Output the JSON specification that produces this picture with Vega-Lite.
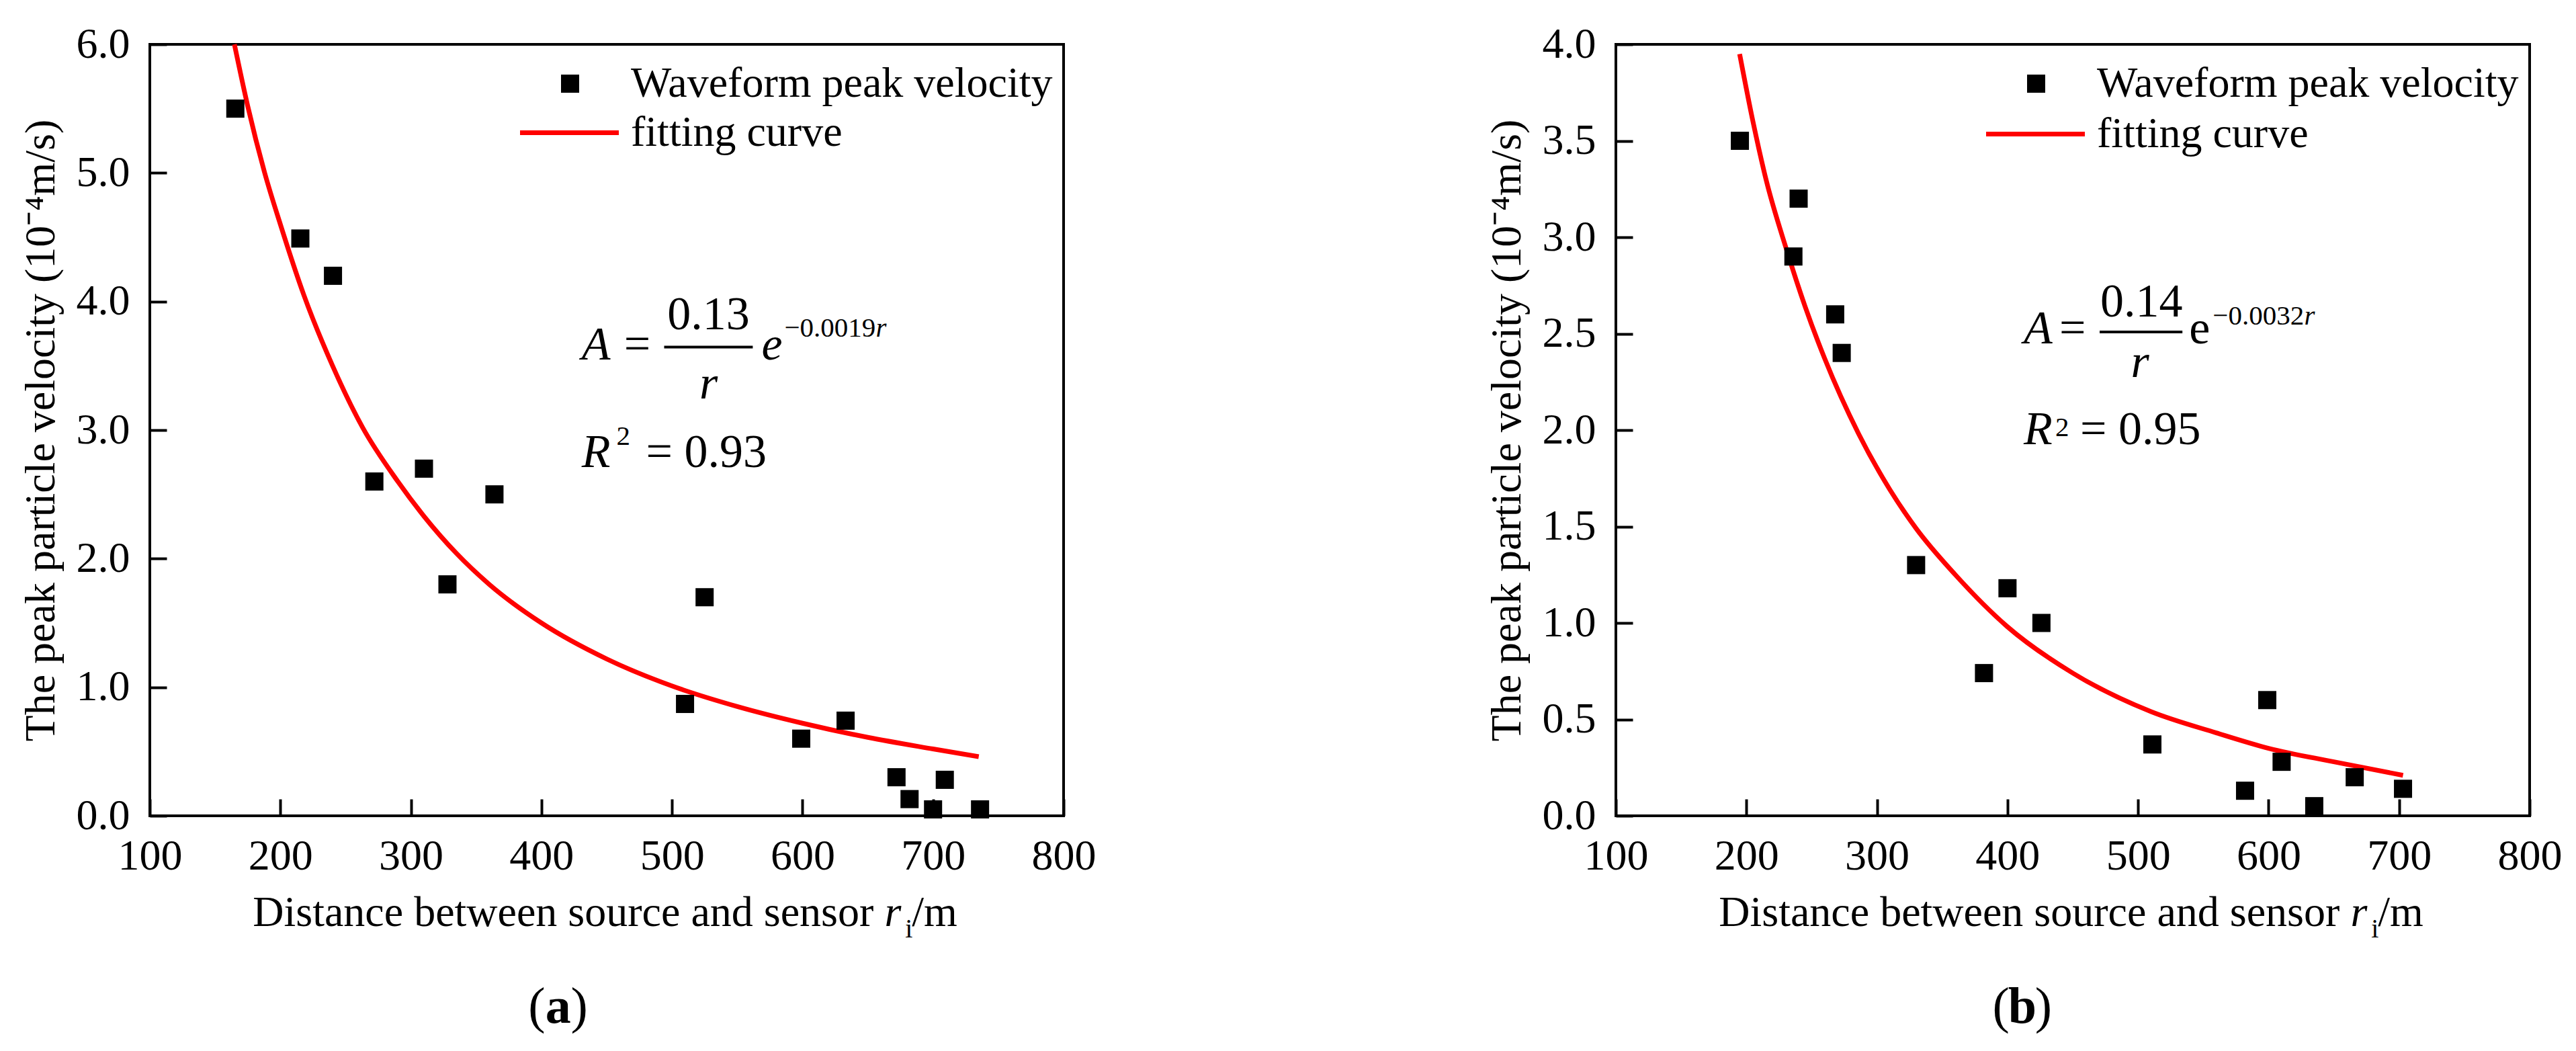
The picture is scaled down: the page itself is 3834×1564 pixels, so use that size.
{
  "$schema": "https://vega.github.io/schema/vega-lite/v6.json",
  "background": "white",
  "padding": {"left": 27, "top": 32, "right": 20, "bottom": 10},
  "bounds": "flush",
  "spacing": 822,
  "config": {
    "font": "Liberation Serif",
    "view": {"stroke": "black", "strokeWidth": 4},
    "axis": {
      "domain": false,
      "grid": false,
      "ticks": true,
      "tickSize": -25,
      "tickWidth": 4,
      "tickColor": "black",
      "labelFont": "Liberation Serif",
      "labelFontSize": 64,
      "labelColor": "black",
      "labelFlush": false,
      "labelOverlap": false,
      "titleFont": "Liberation Serif",
      "titleFontSize": 64,
      "titleFontWeight": "normal",
      "titleColor": "black"
    },
    "axisX": {"labelPadding": 53},
    "axisY": {"labelPadding": 55, "titlePadding": 20},
    "legend": {
      "labelFont": "Liberation Serif",
      "labelFontSize": 64,
      "labelColor": "black",
      "labelLimit": 2000,
      "padding": 0
    },
    "text": {"font": "Liberation Serif", "color": "black", "baseline": "alphabetic"}
  },
  "resolve": {
    "scale": {"x": "independent", "y": "independent", "color": "independent", "shape": "independent"},
    "legend": {"color": "independent", "shape": "independent"}
  },
  "hconcat": [
    {
      "width": 1360,
      "height": 1148,
      "encoding": {
        "x": {
          "field": "r",
          "type": "quantitative",
          "title": null,
          "scale": {"domain": [100, 800], "nice": false, "zero": false},
          "axis": {"values": [100, 200, 300, 400, 500, 600, 700, 800], "format": "d"}
        },
        "y": {
          "field": "v",
          "type": "quantitative",
          "title": "The peak particle velocity (10⁻⁴m/s)",
          "scale": {"domain": [0, 6], "nice": false},
          "axis": {"values": [0, 1, 2, 3, 4, 5, 6], "format": ".1f"}
        }
      },
      "layer": [
        {
          "data": {"values": [
            {"r": 164.8, "v": 6.0}, {"r": 175, "v": 5.52}, {"r": 188, "v": 5.0},
            {"r": 200, "v": 4.6}, {"r": 218, "v": 4.05}, {"r": 240, "v": 3.5},
            {"r": 263, "v": 3.02}, {"r": 290, "v": 2.6}, {"r": 310, "v": 2.33},
            {"r": 335, "v": 2.04}, {"r": 360, "v": 1.8}, {"r": 400, "v": 1.5},
            {"r": 450, "v": 1.22}, {"r": 500, "v": 1.01}, {"r": 550, "v": 0.85},
            {"r": 600, "v": 0.72}, {"r": 650, "v": 0.61}, {"r": 700, "v": 0.52},
            {"r": 735, "v": 0.46}
          ]},
          "mark": {"type": "line", "strokeWidth": 7, "interpolate": "monotone"},
          "encoding": {
            "color": {
              "datum": "fitting curve",
              "scale": {"range": ["#ff0000"]},
              "legend": {"title": null, "orient": "none", "legendX": 547.5, "legendY": 54.5,
                "symbolType": "stroke", "symbolSize": 21609, "symbolStrokeWidth": 7, "labelOffset": 14.5}
            }
          }
        },
        {
          "data": {"values": [
            {"r": 165.5, "v": 5.5}, {"r": 215.3, "v": 4.49}, {"r": 240.3, "v": 4.2},
            {"r": 272, "v": 2.6}, {"r": 310, "v": 2.7}, {"r": 328, "v": 1.8},
            {"r": 364, "v": 2.5}, {"r": 510, "v": 0.87}, {"r": 525, "v": 1.7},
            {"r": 599, "v": 0.6}, {"r": 633, "v": 0.74}, {"r": 672, "v": 0.3},
            {"r": 682, "v": 0.13}, {"r": 700, "v": 0.05}, {"r": 709, "v": 0.28},
            {"r": 736, "v": 0.05}
          ]},
          "mark": {"type": "point", "filled": true, "color": "black", "opacity": 1, "size": 729},
          "encoding": {
            "shape": {
              "datum": "Waveform peak velocity",
              "scale": {"range": ["square"]},
              "legend": {"title": null, "orient": "none", "legendX": 593.5, "legendY": 26.5,
                "symbolType": "square", "symbolSize": 729, "symbolFillColor": "black", "labelOffset": 58.5}
            }
          }
        },
        {
          "data": {"values": [{"r": 494.0, "r2": 561.9, "v": 3.645}]},
          "mark": {"type": "rule", "strokeWidth": 4, "color": "black"},
          "encoding": {"x2": {"field": "r2"}}
        },
        {
          "data": {"values": [
            {"label": "A", "r": 430.8, "v": 3.551},
            {"label": "R", "r": 430.8, "v": 2.715},
            {"label": "e", "r": 568.6, "v": 3.551}
          ]},
          "mark": {"type": "text", "fontStyle": "italic", "fontSize": 70, "align": "left"},
          "encoding": {"text": {"field": "label"}}
        },
        {
          "data": {"values": [
            {"label": "=", "r": 463.2, "v": 3.551},
            {"label": "= 0.93", "r": 480.1, "v": 2.715}
          ]},
          "mark": {"type": "text", "fontSize": 70, "align": "left"},
          "encoding": {"text": {"field": "label"}}
        },
        {
          "data": {"values": [{"label": "0.13", "r": 528.0, "v": 3.786}]},
          "mark": {"type": "text", "fontSize": 70, "align": "center"},
          "encoding": {"text": {"field": "label"}}
        },
        {
          "data": {"values": [{"label": "r", "r": 528.0, "v": 3.248}]},
          "mark": {"type": "text", "fontStyle": "italic", "fontSize": 70, "align": "center"},
          "encoding": {"text": {"field": "label"}}
        },
        {
          "data": {"values": [
            {"label": "−0.0019", "r": 586.1, "v": 3.728},
            {"label": "2", "r": 457.5, "v": 2.883}
          ]},
          "mark": {"type": "text", "fontSize": 41, "align": "left"},
          "encoding": {"text": {"field": "label"}}
        },
        {
          "data": {"values": [{"label": "r", "r": 656.1, "v": 3.728}]},
          "mark": {"type": "text", "fontStyle": "italic", "fontSize": 41, "align": "left"},
          "encoding": {"text": {"field": "label"}}
        },
        {
          "data": {"values": [{"label": "Distance between source and sensor", "r": 654.5, "v": -0.857}]},
          "mark": {"type": "text", "fontSize": 64, "align": "right"},
          "encoding": {"text": {"field": "label"}}
        },
        {
          "data": {"values": [{"label": "r", "r": 662.8, "v": -0.857}]},
          "mark": {"type": "text", "fontStyle": "italic", "fontSize": 64, "align": "left"},
          "encoding": {"text": {"field": "label"}}
        },
        {
          "data": {"values": [{"label": "i", "r": 678.7, "v": -0.946}]},
          "mark": {"type": "text", "fontSize": 40, "align": "left"},
          "encoding": {"text": {"field": "label"}}
        },
        {
          "data": {"values": [{"label": "/m", "r": 683.8, "v": -0.857}]},
          "mark": {"type": "text", "fontSize": 64, "align": "left"},
          "encoding": {"text": {"field": "label"}}
        },
        {
          "data": {"values": [{"label": "(", "r": 403.0, "v": -1.61}]},
          "mark": {"type": "text", "fontSize": 76, "align": "right"},
          "encoding": {"text": {"field": "label"}}
        },
        {
          "data": {"values": [{"label": ")", "r": 422.5, "v": -1.61}]},
          "mark": {"type": "text", "fontSize": 76, "align": "left"},
          "encoding": {"text": {"field": "label"}}
        },
        {
          "data": {"values": [{"label": "a", "r": 412.8, "v": -1.61}]},
          "mark": {"type": "text", "fontSize": 76, "fontWeight": "bold", "align": "center"},
          "encoding": {"text": {"field": "label"}}
        }
      ]
    },
    {
      "width": 1360,
      "height": 1148,
      "encoding": {
        "x": {
          "field": "r",
          "type": "quantitative",
          "title": null,
          "scale": {"domain": [100, 800], "nice": false, "zero": false},
          "axis": {"values": [100, 200, 300, 400, 500, 600, 700, 800], "format": "d"}
        },
        "y": {
          "field": "v",
          "type": "quantitative",
          "title": "The peak particle velocity (10⁻⁴m/s)",
          "scale": {"domain": [0, 4], "nice": false},
          "axis": {"values": [0, 0.5, 1, 1.5, 2, 2.5, 3, 3.5, 4], "format": ".1f"}
        }
      },
      "layer": [
        {
          "data": {"values": [
            {"r": 194.8, "v": 3.95}, {"r": 205, "v": 3.6}, {"r": 215, "v": 3.3},
            {"r": 231, "v": 2.93}, {"r": 245, "v": 2.64}, {"r": 260, "v": 2.37},
            {"r": 286, "v": 1.98}, {"r": 310, "v": 1.69}, {"r": 330, "v": 1.49},
            {"r": 360, "v": 1.25}, {"r": 400, "v": 0.98}, {"r": 450, "v": 0.74},
            {"r": 510, "v": 0.54}, {"r": 560, "v": 0.43}, {"r": 600, "v": 0.35},
            {"r": 650, "v": 0.28}, {"r": 703, "v": 0.21}
          ]},
          "mark": {"type": "line", "strokeWidth": 7, "interpolate": "monotone"},
          "encoding": {
            "color": {
              "datum": "fitting curve",
              "scale": {"range": ["#ff0000"]},
              "legend": {"title": null, "orient": "none", "legendX": 547.5, "legendY": 56.5,
                "symbolType": "stroke", "symbolSize": 21609, "symbolStrokeWidth": 7, "labelOffset": 14.5}
            }
          }
        },
        {
          "data": {"values": [
            {"r": 195, "v": 3.5}, {"r": 240, "v": 3.2}, {"r": 236, "v": 2.9},
            {"r": 268, "v": 2.6}, {"r": 273, "v": 2.4}, {"r": 330, "v": 1.3},
            {"r": 400, "v": 1.18}, {"r": 382, "v": 0.74}, {"r": 426, "v": 1.0},
            {"r": 511, "v": 0.37}, {"r": 599, "v": 0.6}, {"r": 582, "v": 0.13},
            {"r": 610, "v": 0.28}, {"r": 635, "v": 0.05}, {"r": 666, "v": 0.2},
            {"r": 703, "v": 0.14}
          ]},
          "mark": {"type": "point", "filled": true, "color": "black", "opacity": 1, "size": 729},
          "encoding": {
            "shape": {
              "datum": "Waveform peak velocity",
              "scale": {"range": ["square"]},
              "legend": {"title": null, "orient": "none", "legendX": 593.5, "legendY": 26.5,
                "symbolType": "square", "symbolSize": 729, "symbolFillColor": "black", "labelOffset": 58.5}
            }
          }
        },
        {
          "data": {"values": [{"r": 470.6, "r2": 534.0, "v": 2.509}]},
          "mark": {"type": "rule", "strokeWidth": 4, "color": "black"},
          "encoding": {"x2": {"field": "r2"}}
        },
        {
          "data": {"values": [
            {"label": "A", "r": 412.4, "v": 2.449},
            {"label": "R", "r": 412.4, "v": 1.927}
          ]},
          "mark": {"type": "text", "fontStyle": "italic", "fontSize": 70, "align": "left"},
          "encoding": {"text": {"field": "label"}}
        },
        {
          "data": {"values": [
            {"label": "=", "r": 439.7, "v": 2.449},
            {"label": "= 0.95", "r": 455.7, "v": 1.927},
            {"label": "e", "r": 539.2, "v": 2.449}
          ]},
          "mark": {"type": "text", "fontSize": 70, "align": "left"},
          "encoding": {"text": {"field": "label"}}
        },
        {
          "data": {"values": [{"label": "0.14", "r": 502.6, "v": 2.589}]},
          "mark": {"type": "text", "fontSize": 70, "align": "center"},
          "encoding": {"text": {"field": "label"}}
        },
        {
          "data": {"values": [{"label": "r", "r": 501.5, "v": 2.275}]},
          "mark": {"type": "text", "fontStyle": "italic", "fontSize": 70, "align": "center"},
          "encoding": {"text": {"field": "label"}}
        },
        {
          "data": {"values": [
            {"label": "−0.0032", "r": 557.2, "v": 2.547},
            {"label": "2", "r": 436.6, "v": 1.969}
          ]},
          "mark": {"type": "text", "fontSize": 41, "align": "left"},
          "encoding": {"text": {"field": "label"}}
        },
        {
          "data": {"values": [{"label": "r", "r": 627.3, "v": 2.547}]},
          "mark": {"type": "text", "fontStyle": "italic", "fontSize": 41, "align": "left"},
          "encoding": {"text": {"field": "label"}}
        },
        {
          "data": {"values": [{"label": "Distance between source and sensor", "r": 654.5, "v": -0.571}]},
          "mark": {"type": "text", "fontSize": 64, "align": "right"},
          "encoding": {"text": {"field": "label"}}
        },
        {
          "data": {"values": [{"label": "r", "r": 662.8, "v": -0.571}]},
          "mark": {"type": "text", "fontStyle": "italic", "fontSize": 64, "align": "left"},
          "encoding": {"text": {"field": "label"}}
        },
        {
          "data": {"values": [{"label": "i", "r": 678.7, "v": -0.631}]},
          "mark": {"type": "text", "fontSize": 40, "align": "left"},
          "encoding": {"text": {"field": "label"}}
        },
        {
          "data": {"values": [{"label": "/m", "r": 683.8, "v": -0.571}]},
          "mark": {"type": "text", "fontSize": 64, "align": "left"},
          "encoding": {"text": {"field": "label"}}
        },
        {
          "data": {"values": [{"label": "(", "r": 401.5, "v": -1.073}]},
          "mark": {"type": "text", "fontSize": 76, "align": "right"},
          "encoding": {"text": {"field": "label"}}
        },
        {
          "data": {"values": [{"label": ")", "r": 421.1, "v": -1.073}]},
          "mark": {"type": "text", "fontSize": 76, "align": "left"},
          "encoding": {"text": {"field": "label"}}
        },
        {
          "data": {"values": [{"label": "b", "r": 411.3, "v": -1.073}]},
          "mark": {"type": "text", "fontSize": 76, "fontWeight": "bold", "align": "center"},
          "encoding": {"text": {"field": "label"}}
        }
      ]
    }
  ]
}
